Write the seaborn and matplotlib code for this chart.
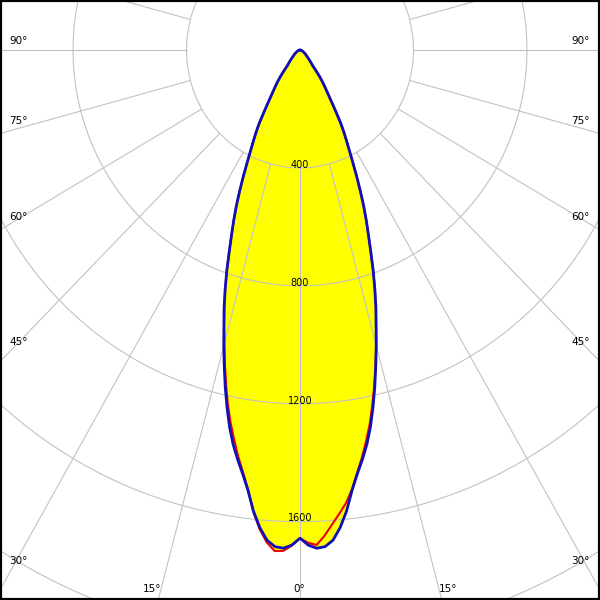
import numpy as np
import pandas as pd
import matplotlib
matplotlib.use("Agg")
import matplotlib.pyplot as plt
from matplotlib.patches import Rectangle
import seaborn as sns

# ---- data (candela vs. gamma angle in degrees) ----
angles = [0, 1, 2, 3, 4, 5, 6, 7, 8, 9, 10, 11, 12, 13, 14, 15, 16, 17, 18, 19,
          20, 21, 22, 23, 24, 25, 26, 27, 28, 29, 30, 31, 32, 33, 34, 35, 36, 37,
          38, 39, 40, 42, 45, 50, 55, 60, 70, 80, 90]
blue_left = [1656, 1680, 1691, 1687, 1667, 1626, 1572, 1505, 1452, 1406, 1358, 1302,
             1238, 1172, 1104, 1038, 973, 915, 854, 793, 730, 674, 624, 574, 522,
             472, 425, 384, 350, 320, 288, 250, 218, 190, 170, 153, 138, 122, 104,
             86, 70, 58, 45, 30, 22, 15, 8, 3, 0]
blue_right = [1656, 1680, 1691, 1687, 1667, 1626, 1572, 1505, 1452, 1406, 1358, 1302,
              1238, 1172, 1104, 1038, 973, 915, 854, 793, 730, 674, 624, 574, 522,
              472, 425, 384, 350, 320, 288, 250, 218, 190, 170, 153, 138, 122, 104,
              86, 70, 58, 45, 30, 22, 15, 8, 3, 0]
red_left = [1656, 1682, 1700, 1702, 1675, 1632, 1575, 1502, 1445, 1395, 1340, 1285,
            1225, 1160, 1095, 1030, 970, 913, 853, 793, 730, 674, 624, 574, 522,
            472, 425, 384, 350, 320, 288, 250, 218, 190, 170, 153, 138, 122, 104,
            86, 70, 58, 45, 30, 22, 15, 8, 3, 0]
red_right = [1656, 1672, 1680, 1650, 1614, 1580, 1546, 1502, 1448, 1398, 1345, 1290,
             1228, 1165, 1100, 1038, 973, 915, 854, 793, 730, 674, 624, 574, 522,
             472, 425, 384, 350, 320, 288, 250, 218, 190, 170, 153, 138, 122, 104,
             86, 70, 58, 45, 30, 22, 15, 8, 3, 0]
ring_values = [400, 800, 1200, 1600, 2000]
ring_labels = ["400", "800", "1200", "1600"]
angle_labels_side = ["90°", "75°", "60°", "45°", "30°"]
angle_labels_bottom = ["15°", "0°", "15°"]

sns.set_theme(style="white")
plt.rcParams["font.family"] = ["DejaVu Sans"]
plt.rcParams["text.color"] = "black"

W = H = 600
fig = plt.figure(figsize=(6, 6), dpi=100)
R = 2400
sx, sy = 0.2837, 0.2948          # px per cd horizontally / vertically
cx, cy = 300, 550                # centre in pixels from bottom-left
w, h = 2 * R * sx, 2 * R * sy
ax = fig.add_axes([(cx - w / 2) / W, (cy - h / 2) / H, w / W, h / H],
                  projection="polar")
ax.set_aspect("auto")
ax.set_theta_zero_location("S")
ax.set_ylim(0, R)
ax.grid(False)
ax.set_xticks([])
ax.set_yticks([])
ax.spines["polar"].set_visible(False)
ax.patch.set_facecolor("white")

def curve(left, right):
    a = np.radians(np.array(angles, dtype=float))
    th = np.concatenate([-a[::-1], a[1:]])
    r = np.concatenate([np.array(left, float)[::-1], np.array(right, float)[1:]])
    return pd.DataFrame({"theta": th, "r": r})

blue = curve(blue_left, blue_right)
red = curve(red_left, red_right)

ax.fill(blue["theta"], blue["r"], color="#ffff00", lw=0, zorder=1)
ax.fill(red["theta"], red["r"], color="#ffff00", lw=0, zorder=1)

grid_c = "#c2c2c2"
tt = np.linspace(0, 2 * np.pi, 721)
for rv in ring_values:
    ax.plot(tt, np.full_like(tt, rv), color=grid_c, lw=0.8, zorder=2)
for a in range(0, 360, 15):
    ax.plot([np.radians(a)] * 2, [ring_values[0], R], color=grid_c, lw=0.8, zorder=2)

sns.lineplot(data=red, x="theta", y="r", sort=False, estimator=None, ax=ax,
             color="#f00000", lw=1.5, zorder=4)
sns.lineplot(data=blue, x="theta", y="r", sort=False, estimator=None, ax=ax,
             color="#1010b8", lw=2.0, zorder=5)
ax.set_xlabel("")
ax.set_ylabel("")
ax.set_xticks([])
ax.set_yticks([])

for rv, lab in zip(ring_values, ring_labels):
    ax.text(0, rv + 6, lab, ha="center", va="bottom", fontsize=7,
            color="black", zorder=6)

side_y = [41.5, 121.5, 216.5, 342, 560.5]
for lab, yy in zip(angle_labels_side, side_y):
    fig.text(9 / W, 1 - yy / H, lab, ha="left", va="center", fontsize=7.5,
             color="black")
    fig.text(590 / W, 1 - yy / H, lab, ha="right", va="center", fontsize=7.5,
             color="black")
for lab, xx in zip(angle_labels_bottom, [152, 299, 448]):
    fig.text(xx / W, 1 - 588.5 / H, lab, ha="center", va="center", fontsize=7.5,
             color="black")

fig.add_artist(Rectangle((0, 0), 1, 1, transform=fig.transFigure, fill=False,
                         lw=3, ec="black", zorder=10))

fig.savefig("out.png", dpi=100)
